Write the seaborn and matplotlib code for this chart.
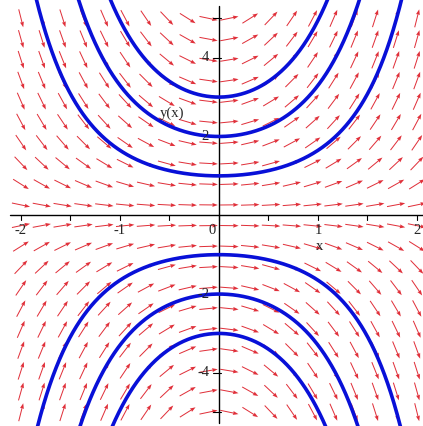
import numpy as np
import pandas as pd
import matplotlib
matplotlib.use("Agg")
import matplotlib.pyplot as plt
import seaborn as sns

# ---- data ----
# ODE plotted: dy/dx = x*y  (direction field + solution curves)
initial_x = 0.0
initial_values = [3, 2, 1, -1, -2, -3]          # y(0) of the blue curves
field_x_range = (-2.0, 2.0)                     # arrow grid
field_y_range = (-5.0, 5.0)
field_n = 20
x_ticks = [-2, -1, 0, 1, 2]
x_tick_labels = ["-2", "-1", "0", "1", "2"]
y_ticks = [4, 2, -2, -4]
y_tick_labels = ["4", "2", "-2", "-4"]


def slope(x, y):
    return x * y


def solve(y0, x_end, h=0.002):
    xs, ys = [initial_x], [y0]
    x, y = initial_x, y0
    n = int(abs(x_end - initial_x) / h)
    s = np.sign(x_end - initial_x) * h
    for _ in range(n):
        k1 = slope(x, y)
        k2 = slope(x + s / 2, y + s * k1 / 2)
        k3 = slope(x + s / 2, y + s * k2 / 2)
        k4 = slope(x + s, y + s * k3)
        y = y + s * (k1 + 2 * k2 + 2 * k3 + k4) / 6
        x = x + s
        xs.append(x)
        ys.append(y)
        if abs(y) > 7:
            break
    return xs, ys


sns.set_style("white")
plt.rcParams["font.family"] = ["Liberation Serif", "DejaVu Serif"]

fig = plt.figure(figsize=(4.23, 4.26), dpi=100)
ax = fig.add_axes([0, 0, 1, 1])
xlim = (-2.212, 2.061)
ylim = (-5.35, 5.465)
ax.set_xlim(*xlim)
ax.set_ylim(*ylim)

# pixel scale for screen-normalised arrows
px_per_x = 423 / (xlim[1] - xlim[0])
px_per_y = 426 / (ylim[1] - ylim[0])

gx = np.linspace(*field_x_range, field_n)
gy = np.linspace(*field_y_range, field_n)
X, Y = np.meshgrid(gx, gy)
S = slope(X, Y)
U = px_per_x * np.ones_like(S)
V = px_per_y * S
L = np.hypot(U, V)
U, V = U / L, V / L
ax.quiver(X, Y, U, V, angles="uv", pivot="middle", units="dots",
          scale_units="dots", scale=1 / 18.5, width=1.0, headwidth=4.0,
          headlength=5.5, headaxislength=5.0, color="#e0303a", zorder=2)

# solution curves
rows = []
for i, y0 in enumerate(initial_values):
    xl, yl = solve(y0, -2.4)
    xr, yr = solve(y0, 2.4)
    xs = xl[::-1] + xr[1:]
    ys = yl[::-1] + yr[1:]
    for a, b in zip(xs, ys):
        rows.append((i, a, b))
df = pd.DataFrame(rows, columns=["curve", "x", "y"])
for i in range(len(initial_values)):
    d = df[df["curve"] == i]
    sns.lineplot(data=d, x="x", y="y", sort=False, estimator=None,
                 color="#0810d8", linewidth=2.6, ax=ax, zorder=4)

# axes through origin
for sp in ["top", "right", "left", "bottom"]:
    ax.spines[sp].set_visible(False)
ax.plot([-2.11, 2.06], [0, 0], color="black", lw=1.0, zorder=3)
ax.plot([0, 0], [-5.28, 5.31], color="black", lw=1.0, zorder=3)
ax.set_xticks([])
ax.set_yticks([])
ax.set_xlabel("")
ax.set_ylabel("")

# tick marks
for t in np.arange(-2, 2.01, 0.5):
    ax.plot([t, t], [0, -0.13], color="black", lw=0.8, zorder=3)
for t in [-5, -4, -3, -2, -1, 1, 2, 3, 4, 5]:
    ax.plot([-0.06, 0.02], [t, t], color="black", lw=0.8, zorder=3)

fs = 10.5
for t, lab in zip(x_ticks, x_tick_labels):
    xoff = -0.07 if t == 0 else 0.0
    ax.text(t + xoff, -0.38, lab, ha="center", va="center", fontsize=fs, zorder=5)
for t, lab in zip(y_ticks, y_tick_labels):
    ax.text(-0.1, t, lab, ha="right", va="center", fontsize=fs, zorder=5)

ax.text(-0.47, 2.58, "y(x)", ha="center", va="center", fontsize=fs, zorder=5)
ax.text(1.02, -0.8, "x", ha="center", va="center", fontsize=fs, zorder=5)

fig.savefig("out.png", dpi=100, facecolor="white")
